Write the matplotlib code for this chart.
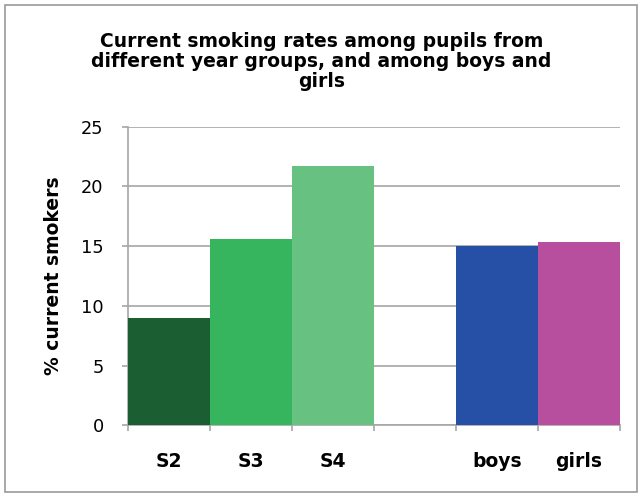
import matplotlib
matplotlib.use("Agg")
import matplotlib.pyplot as plt
from matplotlib.patches import Rectangle

categories = ["S2", "S3", "S4", "", "boys", "girls"]
values = [9.0, 15.6, 21.7, 0.0, 15.0, 15.3]
colors = ["#1b5e32", "#37b55e", "#67c282", "#ffffff", "#2550a5", "#b84f9e"]
title = "Current smoking rates among pupils from\ndifferent year groups, and among boys and\ngirls"
ylabel = "% current smokers"
yticks = [0, 5, 10, 15, 20, 25]

plt.rcParams["font.family"] = ["DejaVu Sans"]

fig = plt.figure(figsize=(6.43, 4.97), dpi=100)
fig.patch.set_facecolor("white")
fig.patches.append(Rectangle((5 / 643, 5 / 497), 632 / 643, 487 / 497,
                             transform=fig.transFigure, fill=False,
                             edgecolor="#9a9a9a", linewidth=1.2))

ax = fig.add_axes([128 / 643, (497 - 425.3) / 497, 492 / 643, 298.7 / 497])
x = list(range(len(categories)))
heights = [v if c else 0 for v, c in zip(values, categories)]
ax.bar(x, heights, width=1.0, color=colors, edgecolor="none", zorder=3)

ax.set_xlim(-0.5, len(categories) - 0.5)
ax.set_ylim(0, 25)
ax.set_yticks(yticks)
ax.set_yticklabels([str(t) for t in yticks], fontsize=12.8)
ax.yaxis.grid(True, color="#a6a6a6", linewidth=1.2, zorder=0)
ax.set_axisbelow(True)

ax.set_xticks([i - 0.5 for i in range(len(categories) + 1)])
ax.set_xticklabels([])
ax.set_xticks(x, minor=True)
ax.set_xticklabels(categories, minor=True, fontsize=13.5, fontweight="bold")
ax.tick_params(axis="x", which="minor", length=0, pad=19)
ax.tick_params(axis="x", which="major", length=4.5, color="#a6a6a6", width=1.2)
ax.tick_params(axis="y", length=4.5, color="#a6a6a6", width=1.2, pad=13)

for side in ["top", "right"]:
    ax.spines[side].set_visible(False)
for side in ["left", "bottom"]:
    ax.spines[side].set_color("#a6a6a6")
    ax.spines[side].set_linewidth(1.2)

ax.set_ylabel(ylabel, fontsize=13.5, fontweight="bold", labelpad=13)
fig.text(0.5, 1 - 32 / 497, title, ha="center", va="top", fontsize=13.5,
         fontweight="bold", linespacing=1.06)

fig.savefig("out.png", dpi=100)
